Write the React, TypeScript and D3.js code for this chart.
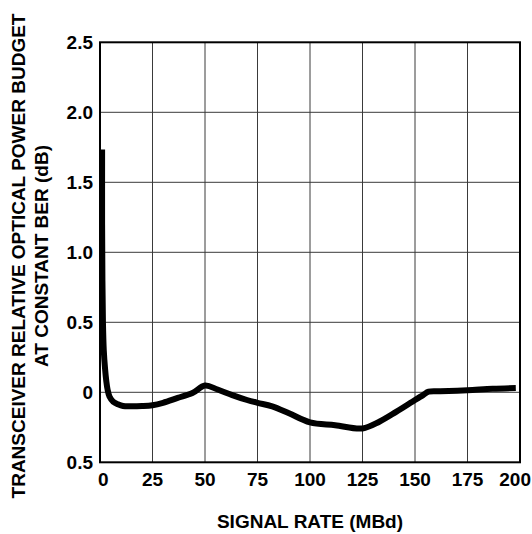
import React from "react";
import * as d3 from "d3";

const rateMBd = [1.0, 1.0, 1.15, 1.4, 1.8, 2.4, 3.0, 3.6, 4.5, 6.3, 8.5, 11, 15, 20, 25, 30, 37, 44, 50, 56, 63, 70, 75, 82, 90, 100, 112, 125, 133, 141, 150, 154, 156.5, 162, 175, 187, 198];
const budgetDb = [1.735, 1.2, 0.8, 0.5, 0.3, 0.17, 0.08, 0.02, -0.03, -0.067, -0.085, -0.098, -0.1, -0.098, -0.092, -0.075, -0.04, -0.005, 0.048, 0.02, -0.02, -0.055, -0.075, -0.1, -0.15, -0.215, -0.235, -0.258, -0.21, -0.14, -0.055, -0.018, 0.004, 0.007, 0.015, 0.025, 0.03];

const xTicks = [0, 25, 50, 75, 100, 125, 150, 175, 200];
const yTicks = [2.5, 2.0, 1.5, 1.0, 0.5, 0, -0.5];
const yTickLabels = ["2.5", "2.0", "1.5", "1.0", "0.5", "0", "0.5"];

const W = 532;
const H = 534;
const left = 100, right = 520, top = 42.3, bottom = 462.3;
const font = "'Liberation Sans', Arial, Helvetica, sans-serif";

export default function App() {
  const x = d3.scaleLinear().domain([0, 200]).range([left, right]);
  const y = d3.scaleLinear().domain([-0.5, 2.5]).range([bottom, top]);
  const pts = rateMBd.map((r, i) => [r, budgetDb[i]] as [number, number]);
  const line = d3
    .line<[number, number]>()
    .x((d) => x(d[0]))
    .y((d) => y(d[1]))
    .curve(d3.curveCatmullRom.alpha(0.5));

  return (
    <svg
      width={W}
      height={H}
      style={{ position: "absolute", left: 0, top: 0, background: "#fff" }}
    >
      <rect x={0} y={0} width={W} height={H} fill="#fff" />
      {xTicks.slice(1, -1).map((t) => (
        <line key={"gx" + t} x1={x(t)} x2={x(t)} y1={top} y2={bottom} stroke="#3a3a3a" strokeWidth={1} />
      ))}
      {yTicks.slice(1, -1).map((t) => (
        <line key={"gy" + t} x1={left} x2={right} y1={y(t)} y2={y(t)} stroke="#3a3a3a" strokeWidth={1} />
      ))}
      <rect x={left} y={top} width={right - left} height={bottom - top} fill="none" stroke="#000" strokeWidth={2} />
      <path d={line(pts) || ""} fill="none" stroke="#000" strokeWidth={6} strokeLinejoin="round" />
      {xTicks.map((t, i) => (
        <text
          key={"xt" + t}
          x={i === 0 ? x(t) - 2 : i === xTicks.length - 1 ? W - 1 : x(t)}
          y={486}
          textAnchor={i === 0 ? "start" : i === xTicks.length - 1 ? "end" : "middle"}
          fontFamily={font}
          fontWeight="bold"
          fontSize={19}
        >
          {t}
        </text>
      ))}
      {yTicks.map((t, i) => (
        <text
          key={"yt" + i}
          x={93}
          y={y(t)}
          dy="0.35em"
          textAnchor="end"
          fontFamily={font}
          fontWeight="bold"
          fontSize={19}
        >
          {yTickLabels[i]}
        </text>
      ))}
      <text x={(left + right) / 2} y={528} textAnchor="middle" fontFamily={font} fontWeight="bold" fontSize={19}>
        SIGNAL RATE (MBd)
      </text>
      <g transform="translate(25,256) rotate(-90)">
        <text x={0} y={0} textAnchor="middle" fontFamily={font} fontWeight="bold" fontSize={19}>
          TRANSCEIVER RELATIVE OPTICAL POWER BUDGET
        </text>
        <text x={0} y={23} textAnchor="middle" fontFamily={font} fontWeight="bold" fontSize={19}>
          AT CONSTANT BER (dB)
        </text>
      </g>
    </svg>
  );
}
